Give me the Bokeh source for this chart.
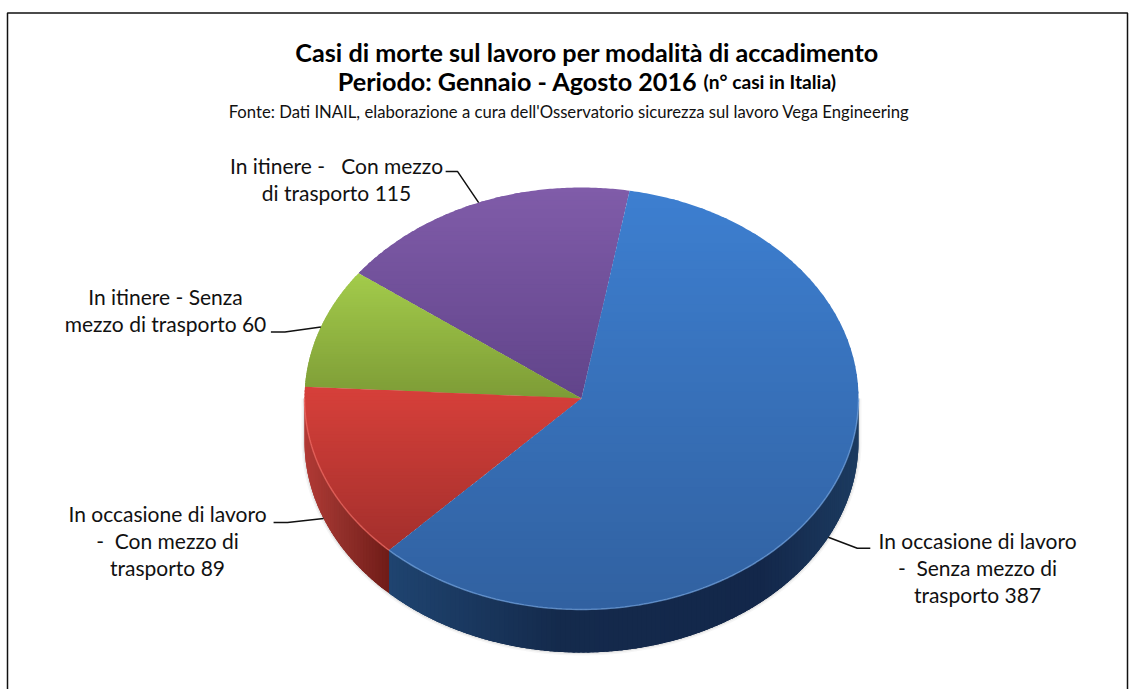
import math
from bokeh.plotting import figure
from bokeh.models import Range1d
from bokeh.core.properties import value
from bokeh.embed import file_html
from bokeh.resources import INLINE

# ---- data ----
categories = ["In occasione di lavoro - Senza mezzo di trasporto",
              "In occasione di lavoro - Con mezzo di trasporto",
              "In itinere - Senza mezzo di trasporto",
              "In itinere - Con mezzo di trasporto"]
cases = [387, 89, 60, 115]
label_lines = [["In occasione di lavoro", "-\u00a0 Senza mezzo di", "trasporto 387"],
               ["In occasione di lavoro", "-\u00a0 Con mezzo di", "trasporto 89"],
               ["In itinere - Senza", "mezzo di trasporto 60"],
               ["In itinere -\u00a0\u00a0 Con mezzo", "di trasporto 115"]]
title_1 = "Casi di morte sul lavoro per modalità di accadimento"
title_2 = "Periodo: Gennaio - Agosto 2016"
title_2b = "(n° casi in Italia)"
source = "Fonte: Dati INAIL, elaborazione a cura dell'Osservatorio sicurezza sul lavoro Vega Engineering"

# ---- style ----
top_colors = [("#3d7fd0", "#3161a1"), ("#d7403a", "#a32f2c"),
              ("#a3cb4b", "#7d9c36"), ("#805ca9", "#61448a")]
wall_stops = [[(388, "#1f4470"), (560, "#142a4c"), (760, "#13274a"), (858, "#1c3b60")],
              [(304, "#b23a35"), (340, "#93302b"), (388, "#701c18")]]
rim_colors = ["#6f9fdc", "#ee6a62"]
FONT = value("Lato")
CX, CY, RX, RY, DEPTH = 581, 398, 277, 211, 43
START = 10.0


def hex_rgb(h):
    return tuple(int(h[i:i + 2], 16) for i in (1, 3, 5))


def mix(c1, c2, t):
    a, b = hex_rgb(c1), hex_rgb(c2)
    return "#%02x%02x%02x" % tuple(round(a[i] + (b[i] - a[i]) * t) for i in range(3))


def pt(a, dy=0.0):
    r = math.radians(a)
    return CX + RX * math.sin(r), CY - RY * math.cos(r) + dy


def arc(a0, a1, dy=0.0, step=1.0):
    n = max(2, int(abs(a1 - a0) / step) + 1)
    return [pt(a0 + (a1 - a0) * i / (n - 1), dy) for i in range(n)]


def clip(poly, y, keep_below):
    out = []
    for i in range(len(poly)):
        p, q = poly[i], poly[(i + 1) % len(poly)]
        ip = (p[1] >= y) == keep_below
        iq = (q[1] >= y) == keep_below
        if ip:
            out.append(p)
        if ip != iq:
            t = (y - p[1]) / (q[1] - p[1])
            out.append((p[0] + (q[0] - p[0]) * t, y))
    return out


p = figure(width=1135, height=689, output_backend="svg", toolbar_location=None,
           x_range=Range1d(0, 1135), y_range=Range1d(689, 0),
           min_border=0, outline_line_color=None)
p.axis.visible = False
p.grid.visible = False

# frame
p.line([7, 7, 1127, 1127], [689, 12.5, 12.5, 689], line_color="#111111", line_width=1.5)

total = sum(cases)
spans = []
a = START
for v in cases:
    spans.append((a, a + 360.0 * v / total))
    a = spans[-1][1]

# soft shadow around the lower silhouette
sil = [pt(90)] + arc(90, 270, DEPTH) + [pt(270)]
for w, al in ((6, 0.05), (3, 0.10)):
    p.line([q[0] for q in sil], [q[1] for q in sil], line_color="#555555", line_width=w, line_alpha=al)


# side wall
def wall_color(stops, x):
    if x <= stops[0][0]:
        return stops[0][1]
    for (x0, c0), (x1, c1) in zip(stops, stops[1:]):
        if x <= x1:
            return mix(c0, c1, (x - x0) / (x1 - x0))
    return stops[-1][1]


for idx in (0, 1):
    a0, a1 = spans[idx]
    a0, a1 = max(a0, 90.0), min(a1, 270.0)
    xs, ys, cs = [], [], []
    n = int((a1 - a0) / 1.0) + 1
    for i in range(n):
        s = a0 + (a1 - a0) * i / n
        e = min(a1, a0 + (a1 - a0) * (i + 1) / n + 1.5)
        mid_x = pt(s + 0.5)[0]
        top_arc = arc(s, e, 0, 0.5)
        bot_arc = arc(e, s, DEPTH, 0.5)
        xs.append([q[0] for q in top_arc + bot_arc])
        ys.append([q[1] for q in top_arc + bot_arc])
        cs.append(wall_color(wall_stops[idx], mid_x))
    p.patches(xs, ys, fill_color=cs, line_color=None)

# top surface, vertical gradient in bands
BANDS = 48
for idx in (3, 2, 1, 0):
    a0, a1 = spans[idx]
    poly = [(float(CX), float(CY))] + arc(a0, a1, 0, 0.5)
    y0 = min(q[1] for q in poly)
    y1 = max(q[1] for q in poly)
    xs, ys, cs = [], [], []
    for b in range(BANDS):
        t0 = y0 + (y1 - y0) * b / BANDS
        t1 = y0 + (y1 - y0) * (b + 1) / BANDS + 2.0
        part = clip(clip(poly, t0, True), t1, False)
        if len(part) < 3:
            continue
        xs.append([q[0] for q in part])
        ys.append([q[1] for q in part])
        cs.append(mix(top_colors[idx][0], top_colors[idx][1], (b + 0.5) / BANDS))
    p.patches(xs, ys, fill_color=cs, line_color=None)

# bevel highlight on the front rim
for idx in (0, 1):
    a0, a1 = spans[idx]
    a0, a1 = max(a0, 90.0), min(a1, 270.0)
    r = arc(a0, a1)
    p.line([q[0] for q in r], [q[1] for q in r], line_color=rim_colors[idx], line_width=1.5, line_alpha=0.7)

# leader lines, anchored at each slice's mid angle
elbows = [((29, 11), (42, 11)), ((-36, 4), (-50, 4)), ((-36, 5), (-50, 5)), ((-21, -31), (-33, -31))]
for idx, (a0, a1) in enumerate(spans):
    mid = (a0 + a1) / 2
    q = pt(mid, DEPTH if 90 < mid < 270 else 0)
    e0, e1 = elbows[idx]
    p.line([q[0], q[0] + e0[0], q[0] + e1[0]], [q[1], q[1] + e0[1], q[1] + e1[1]],
           line_color="#111111", line_width=1.5)

# labels
label_pos = [(977, 540), (167, 513), (165, 296), (336, 165)]
for idx, lines in enumerate(label_lines):
    x, y = label_pos[idx]
    p.text([x] * len(lines), [y + i * 27.2 for i in range(len(lines))], text=lines,
           text_font=FONT, text_font_size="21px", text_color="#111111",
           text_align="center", text_baseline="middle")

# titles
p.text([586.5], [51], text=[title_1], text_font=FONT, text_font_size="25.2px", text_font_style="bold",
       text_color="#000000", text_align="center", text_baseline="middle")
p.text([697], [80], text=[title_2], text_font=FONT, text_font_size="25.2px", text_font_style="bold",
       text_color="#000000", text_align="right", text_baseline="middle")
p.text([703], [81], text=[title_2b], text_font=FONT, text_font_size="19.2px", text_font_style="bold",
       text_color="#000000", text_align="left", text_baseline="middle")
p.text([568.5], [111], text=[source], text_font=FONT, text_font_size="16.7px",
       text_color="#111111", text_align="center", text_baseline="middle")

open("out.html", "w").write(file_html(p, INLINE))
